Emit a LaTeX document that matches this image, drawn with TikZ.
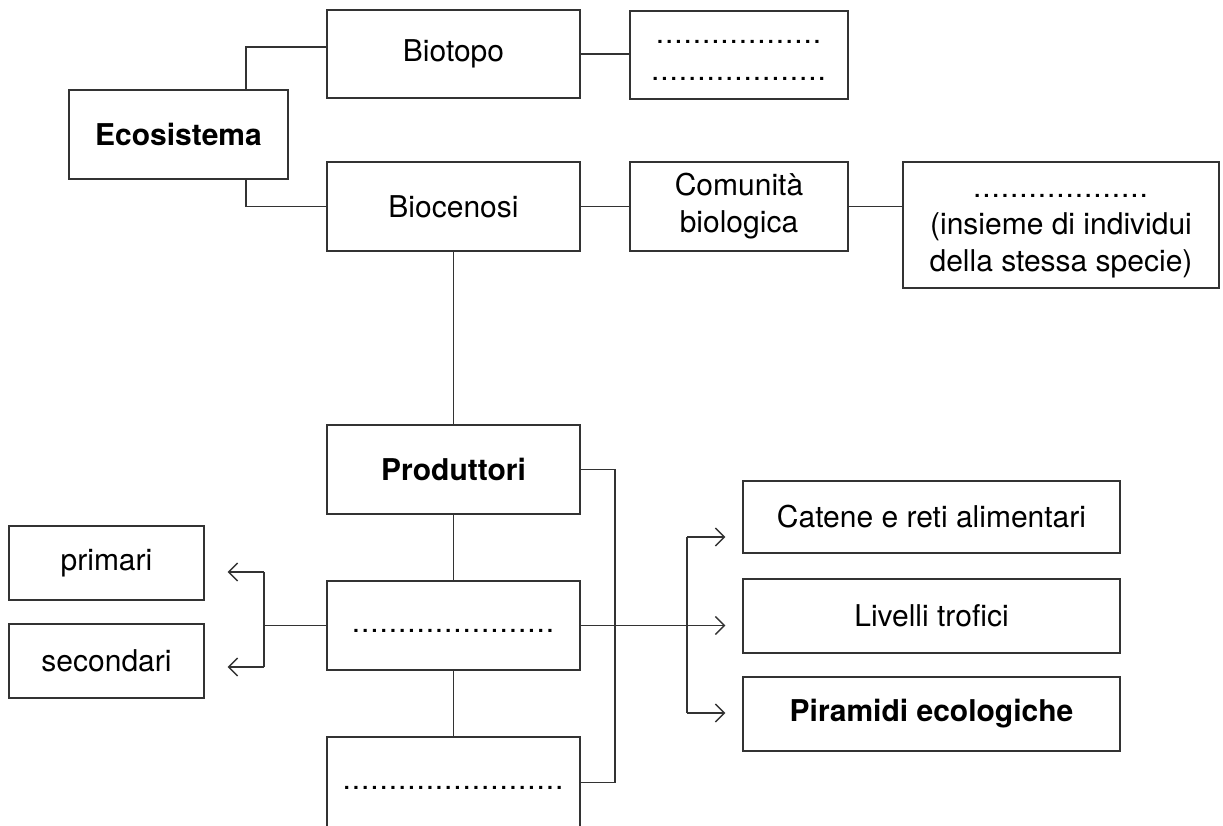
\documentclass[tikz,border=0pt]{standalone}
\usepackage{fontspec}
\setmainfont{TeX Gyre Heros}
\usetikzlibrary{arrows.meta}
\definecolor{linec}{HTML}{333333}
\newcommand{\dotrow}[1]{\strut\foreach\i in {1,...,#1}{.\kern0.9pt}}
\tikzset{
  box/.style={draw=linec, line width=1.4pt, inner sep=0pt, align=center,
    font=\fontsize{30}{37}\selectfont, text=black},
  conn/.style={draw=linec, line width=1.4pt},
  arr/.style={conn, -{Straight Barb[length=9pt,width=18pt,line width=1.3pt]}},
}
\begin{document}
\begin{tikzpicture}[x=1pt,y=-1pt]
\useasboundingbox (0,0) rectangle (1223,826);
\clip (0,0) rectangle (1223,826);
% top area
\node[box, minimum width=219, minimum height=89] (eco) at (178.5,134.5) {\bfseries Ecosistema};
\node[box, minimum width=253, minimum height=88] (biotopo) at (453.5,54) {Biotopo};
\node[box, minimum width=218, minimum height=88] (vuoto1) at (739,55) {\dotrow{18}\\\dotrow{19}};
\node[box, minimum width=253, minimum height=89] (biocenosi) at (453.5,206.5) {Biocenosi};
\node[box, minimum width=218, minimum height=89] (comunita) at (739,206.5) {Comunità\\biologica};
\node[box, minimum width=316, minimum height=126] (popol) at (1061,225) {\dotrow{19}\\(insieme di individui\\della stessa specie)};
% middle column
\node[box, minimum width=253, minimum height=89] (prod) at (453.5,469.5) {\bfseries Produttori};
\node[box, minimum width=253, minimum height=89] (cons) at (453.5,625.5) {\dotrow{22}};
\node[box, minimum width=253, minimum height=91] (deco) at (453.5,782.5) {\dotrow{24}};
% left
\node[box, minimum width=195, minimum height=74] (prim) at (106.5,563) {primari};
\node[box, minimum width=195, minimum height=74] (sec) at (106.5,661) {secondari};
% right
\node[box, minimum width=377, minimum height=72] (catene) at (931.5,517) {Catene e reti alimentari};
\node[box, minimum width=377, minimum height=74] (livelli) at (931.5,616) {Livelli trofici};
\node[box, minimum width=377, minimum height=74] (piram) at (931.5,714) {\bfseries Piramidi ecologiche};
% coordinates
\coordinate (ea) at (246,47);
\coordinate (eb) at (246,206.5);
\coordinate (pr) at (615,469.5);
\coordinate (rb) at (687,625.5);
\coordinate (rt) at (687,537);
\coordinate (rd) at (687,713);
\coordinate (lb) at (264,625.5);
\coordinate (lt) at (264,572);
\coordinate (ld) at (264,667);
% connectors
\draw[conn] (ea |- eco.north) -- (ea) -- (ea -| biotopo.west);
\draw[conn] (eb |- eco.south) -- (eb) -- (biocenosi.west);
\draw[conn] (biotopo.east) -- (biotopo.east -| vuoto1.west);
\draw[conn] (biocenosi.east) -- (comunita.west);
\draw[conn] (comunita.east) -- (comunita.east -| popol.west);
\draw[conn] (biocenosi.south) -- (prod.north);
\draw[conn] (prod.south) -- (cons.north);
\draw[conn] (cons.south) -- (deco.north);
\draw[conn] (prod.east) -- (pr) -- (pr |- deco.east) -- (deco.east);
\draw[conn] (cons.east) -- (rb);
\draw[arr, shorten >=17pt] (rb) -- (rb -| livelli.west);
\draw[conn] (rt) -- (rd);
\draw[arr, shorten >=17pt] (rt) -- (rt -| catene.west);
\draw[arr, shorten >=17pt] (rd) -- (rd -| piram.west);
\draw[conn] (cons.west) -- (lb);
\draw[conn] (lt) -- (ld);
\draw[arr, shorten >=23pt] (lt) -- (lt -| prim.east);
\draw[arr, shorten >=23pt] (ld) -- (ld -| sec.east);
\end{tikzpicture}
\end{document}
